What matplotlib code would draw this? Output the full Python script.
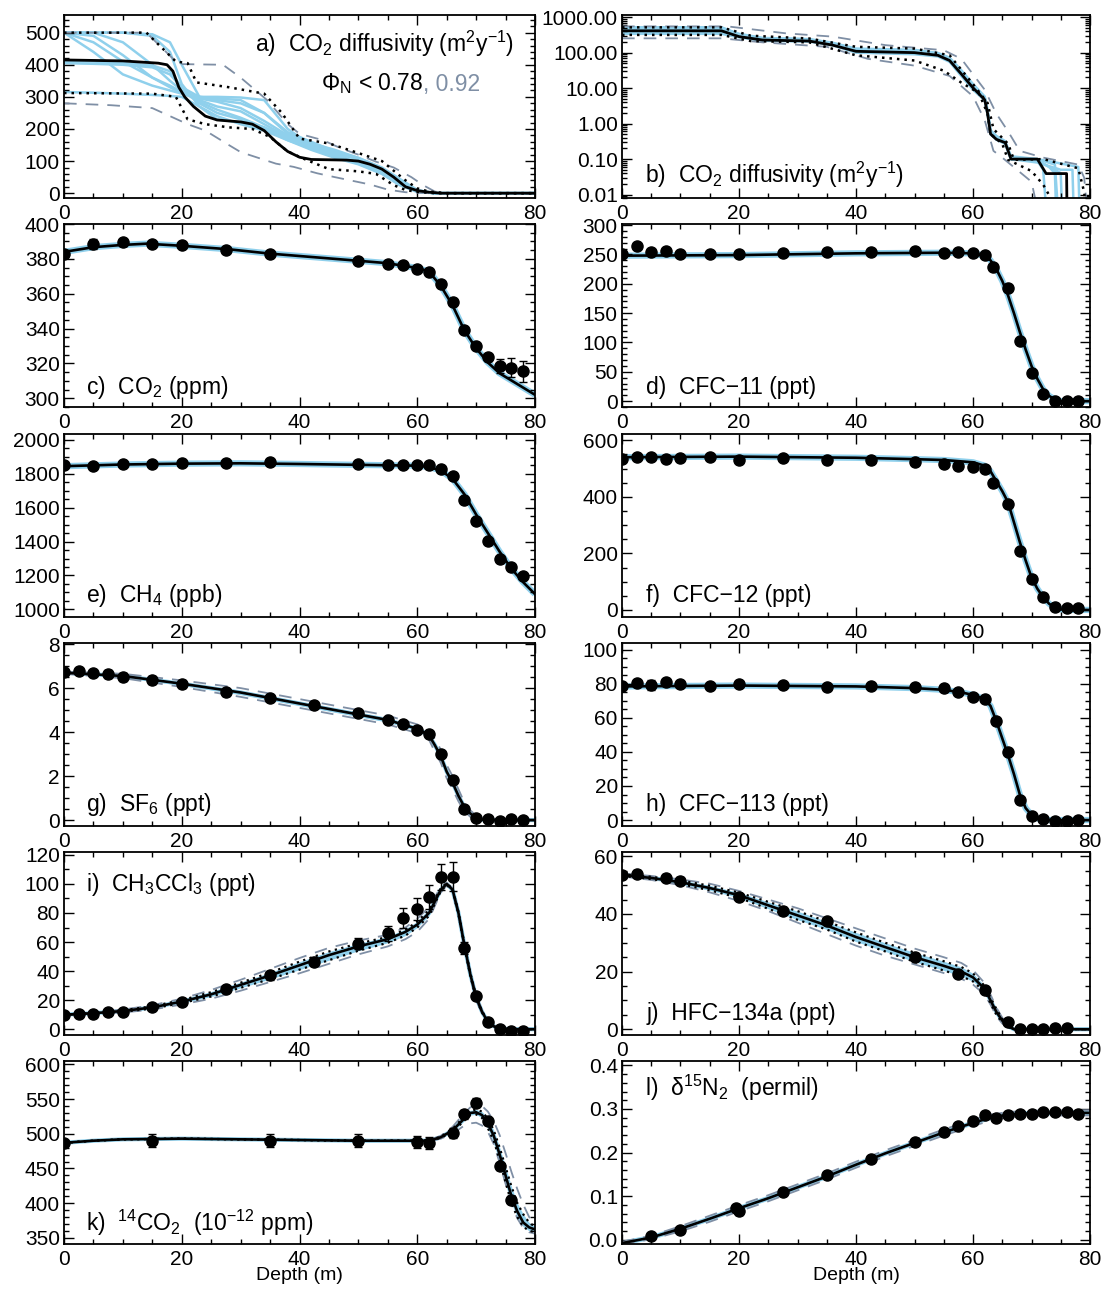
import numpy as np
import matplotlib
matplotlib.use("Agg")
import matplotlib.pyplot as plt
from matplotlib.ticker import MultipleLocator, FormatStrFormatter, LogLocator, NullFormatter

plt.rcParams['font.family'] = ['Liberation Sans', 'DejaVu Sans']
plt.rcParams['mathtext.fontset'] = 'custom'
plt.rcParams['mathtext.rm'] = 'Liberation Sans'
plt.rcParams['mathtext.it'] = 'Liberation Sans:italic'
plt.rcParams['mathtext.default'] = 'regular'

BLUE = '#8fd0ec'
GRAY = '#7f8fa5'
TICK_FS = 15
LABEL_FS = 16.5

# -----------------------------
# a) CO2 diffusivity (linear)
# -----------------------------
a_z = [0, 10, 16, 17.5, 18.5, 19.5, 20.5, 22, 24, 26, 30, 32, 34, 36, 38, 40, 42, 48, 50, 52, 54, 56, 58, 60, 62, 64, 80]
a_m = [415, 412, 405, 400, 380, 330, 300, 270, 240, 228, 222, 215, 195, 160, 130, 112, 105, 103, 100, 90, 75, 50, 20, 8, 3, 0, 0]
a_dot_hi_z = [0, 14, 19, 21, 22.5, 28, 34, 37, 40, 45, 50, 54, 56, 58, 60, 62, 65, 80]
a_dot_hi = [500, 500, 410, 405, 345, 330, 310, 250, 170, 155, 125, 100, 70, 40, 15, 5, 0, 0]
a_dot_lo_z = [0, 15, 19, 21, 24, 28, 32, 35, 38, 41, 45, 50, 53, 56, 58, 60, 63, 80]
a_dot_lo = [312, 310, 300, 230, 215, 205, 200, 175, 130, 105, 75, 68, 60, 25, 10, 4, 0, 0]
a_dash_hi_z = [0, 14, 19, 20, 27, 30, 34.5, 38, 40, 44, 47, 50, 53, 56, 59, 61, 63, 65, 80]
a_dash_hi = [500, 500, 410, 402, 400, 360, 290, 215, 185, 165, 140, 120, 98, 80, 50, 25, 5, 0, 0]
a_dash_lo_z = [0, 8, 15, 18, 21, 24, 28, 30, 36, 39, 43, 46, 52, 55, 58, 62, 80]
a_dash_lo = [280, 274, 265, 240, 215, 195, 150, 128, 92, 82, 62, 50, 27, 11, 3, 0, 0]

a_blue_z = [0, 5, 10, 15, 18, 20, 23, 26, 30, 34, 38, 42, 46, 50, 54, 57, 60, 63, 80]
a_blue = [
    [500, 500, 500, 495, 470, 400, 300, 295, 290, 250, 185, 150, 130, 110, 80, 45, 10, 0, 0],
    [500, 490, 430, 360, 330, 312, 300, 290, 280, 250, 190, 160, 130, 105, 75, 40, 8, 0, 0],
    [500, 440, 370, 335, 320, 310, 295, 285, 265, 225, 180, 145, 120, 95, 65, 30, 5, 0, 0],
    [500, 500, 470, 400, 350, 320, 290, 270, 255, 215, 175, 140, 115, 95, 70, 35, 6, 0, 0],
    [410, 410, 405, 398, 380, 330, 300, 300, 298, 290, 200, 150, 120, 95, 70, 35, 6, 0, 0],
    [405, 403, 400, 392, 370, 330, 280, 250, 230, 200, 165, 135, 110, 90, 60, 25, 4, 0, 0],
    [500, 470, 410, 360, 335, 315, 285, 260, 235, 205, 170, 145, 125, 105, 75, 40, 7, 0, 0],
    [315, 313, 310, 306, 303, 300, 270, 240, 215, 195, 165, 140, 115, 92, 62, 28, 4, 0, 0],
    [500, 500, 500, 490, 440, 340, 270, 230, 220, 205, 175, 155, 135, 110, 78, 42, 8, 0, 0],
]

# -----------------------------
# b) CO2 diffusivity (log)
# -----------------------------
b_z = [0, 17, 20, 24, 32, 36, 40, 50, 54, 56, 58, 60, 62, 62.5, 63, 64, 65.5, 66.5, 71, 72.5, 76, 76.1]
b_m = [412, 412, 283, 227, 212, 163, 109, 100, 84, 60, 25, 10.2, 4.7, 1.9, 0.51, 0.36, 0.29, 0.1, 0.1, 0.039, 0.039, 0.001]
b_dot_hi_z = [0, 17, 22, 32, 40, 50, 56, 60, 62.5, 63.5, 66, 67, 72, 78, 79, 79.3]
b_dot_hi = [516, 516, 300, 250, 146, 130, 84, 13, 3.8, 0.7, 0.27, 0.095, 0.1, 0.055, 0.0118, 0.004]
b_dot_lo_z = [0, 17, 22, 32, 40, 50, 55, 58, 61, 62.5, 63, 65, 66, 70, 72, 73, 73.5]
b_dot_lo = [316, 316, 212, 195, 84, 60, 31, 14.3, 7.3, 1.9, 0.51, 0.27, 0.095, 0.046, 0.019, 0.0097, 0.004]
b_dash_hi_z = [0, 18, 28, 36, 45, 55, 58, 62, 64, 66, 68, 72, 78, 79, 79.5]
b_dash_hi = [550, 550, 350, 283, 163, 117, 67, 9, 1.9, 0.6, 0.17, 0.11, 0.07, 0.03, 0.004]
b_dash_lo_z = [0, 17, 24, 35, 42, 50, 56, 60, 62, 63.5, 65, 70, 71]
b_dash_lo = [253, 253, 195, 146, 67, 43, 22, 5.9, 1.25, 0.17, 0.11, 0.023, 0.004]

b_blue_z = [
    [0, 17, 20, 24, 32, 36, 40, 50, 54, 56, 58, 60, 62, 62.5, 63, 64, 65.5, 66.5, 71, 73, 74, 74.2],
    [0, 17, 20, 24, 32, 36, 40, 50, 54, 56, 58, 60, 62, 62.5, 63, 64, 65.5, 66.5, 71, 72, 72.5],
    [0, 17, 20, 24, 32, 36, 40, 50, 54, 56, 58, 60, 62, 62.5, 63, 64, 65.5, 66.5, 71, 74, 75, 75.2],
    [0, 17, 20, 24, 32, 36, 40, 50, 54, 56, 58, 60, 62, 62.5, 63, 64, 65.5, 66.5, 71, 75, 77, 77.2],
    [0, 17, 20, 24, 32, 36, 40, 50, 54, 56, 58, 60, 62, 62.5, 63, 64, 65.5, 66.5, 71, 76, 78, 78.2],
    [0, 17, 20, 24, 32, 36, 40, 50, 54, 56, 58, 60, 62, 62.5, 63, 64, 65.5, 66.5, 71, 74, 74.5],
]
b_blue = [
    [500, 500, 340, 260, 240, 185, 125, 115, 95, 70, 30, 12, 5.5, 2.2, 0.6, 0.42, 0.3, 0.1, 0.095, 0.06, 0.04, 0.004],
    [460, 460, 310, 245, 228, 175, 118, 108, 90, 64, 27, 11, 5, 2, 0.55, 0.4, 0.29, 0.1, 0.09, 0.05, 0.004],
    [380, 380, 290, 235, 218, 168, 112, 102, 86, 60, 25, 10, 4.8, 1.9, 0.52, 0.37, 0.28, 0.1, 0.09, 0.05, 0.04, 0.004],
    [340, 340, 270, 215, 205, 160, 100, 90, 78, 55, 22, 9, 4.5, 1.8, 0.5, 0.35, 0.27, 0.1, 0.08, 0.05, 0.05, 0.004],
    [440, 440, 320, 250, 232, 180, 120, 110, 92, 66, 28, 11.5, 5.2, 2.1, 0.58, 0.41, 0.3, 0.11, 0.1, 0.07, 0.06, 0.004],
    [520, 520, 330, 255, 238, 190, 130, 120, 98, 72, 32, 13, 5.8, 2.4, 0.65, 0.45, 0.32, 0.12, 0.1, 0.07, 0.004],
]

# -----------------------------
# c) CO2
# -----------------------------
c_z = [0, 5, 10, 14, 20, 28, 35, 50, 55, 58, 60, 62, 63, 64, 66, 68, 70, 72, 74, 76, 78, 80]
c_m = [384, 386.7, 388, 388.7, 387.5, 385.5, 383, 378.9, 377.5, 375.8, 374.8, 372.7, 368.6, 364.5, 353.3, 339, 328.7, 320.5, 314.3, 310.2, 306.1, 302]
c_obs_z = [0, 5, 10, 15, 20, 27.5, 35, 50, 55, 57.5, 60, 62, 64, 66, 68, 70, 72, 74, 76, 78]
c_obs = [383, 388.5, 389.5, 388.5, 388, 385, 382.6, 378.9, 377.3, 376.2, 374.4, 372.7, 365.6, 355, 339, 330, 323.5, 318.5, 317.5, 315.5]
c_err = [1, 3, 2, 1, 1, 1, 1, 1, 1, 1, 1, 1, 1, 1, 1, 1, 2, 4, 5.5, 6]

# -----------------------------
# d) CFC-11
# -----------------------------
d_z = [0, 20, 40, 55, 60, 62, 63, 64, 65, 66, 67, 68, 69, 70, 71, 72, 73, 74, 75, 80]
d_m = [248, 249, 252, 253, 252, 248, 240, 225, 205, 180, 150, 118, 88, 60, 38, 20, 9, 3, 0, 0]
d_obs_z = [0, 2.5, 5, 7.5, 10, 15, 20, 27.5, 35, 42.5, 50, 55, 57.5, 60, 62, 63.5, 66, 68, 70, 72, 74, 76, 78]
d_obs = [250, 265, 254, 256, 250, 251, 251, 253, 254, 254, 256, 253, 254, 252, 249, 228, 193, 103, 48, 12, 1, 0.5, 1]
d_err = [2] * 23

# -----------------------------
# e) CH4
# -----------------------------
e_z = [0, 10, 20, 30, 40, 50, 60, 62, 64, 66, 68, 70, 72, 74, 76, 78, 80]
e_m = [1845, 1855, 1860, 1862, 1858, 1853, 1848, 1840, 1820, 1770, 1680, 1560, 1450, 1340, 1240, 1160, 1090]
e_obs_z = [0, 5, 10, 15, 20, 27.5, 35, 50, 55, 57.5, 60, 62, 64, 66, 68, 70, 72, 74, 76, 78]
e_obs = [1850, 1848, 1858, 1860, 1865, 1862, 1872, 1857, 1850, 1850, 1850, 1850, 1830, 1790, 1645, 1519, 1405, 1300, 1248, 1195]
e_err = [10] * 20

# -----------------------------
# f) CFC-12
# -----------------------------
f_z = [0, 20, 40, 50, 55, 60, 62, 63, 64, 65, 66, 67, 68, 69, 70, 71, 72, 73, 74, 75, 76, 80]
f_m = [540, 542, 538, 533, 530, 522, 510, 490, 455, 420, 380, 310, 240, 175, 115, 75, 45, 22, 8, 2, 0, 0]
f_obs_z = [0, 2.5, 5, 7.5, 10, 15, 20, 27.5, 35, 42.5, 50, 55, 57.5, 60, 62, 63.5, 66, 68, 70, 72, 74, 76, 78]
f_obs = [535, 540, 540, 535, 538, 540, 530, 537, 530, 530, 523, 515, 510, 505, 498, 450, 375, 210, 110, 45, 12, 8, 8]
f_err = [5] * 23

# -----------------------------
# g) SF6
# -----------------------------
g_z = [0, 10, 20, 30, 40, 50, 55, 60, 62, 63, 64, 65, 66, 67, 68, 69, 70, 71, 72, 80]
g_m = [6.7, 6.55, 6.2, 5.8, 5.3, 4.8, 4.55, 4.15, 3.85, 3.4, 2.9, 2.2, 1.7, 1.1, 0.6, 0.3, 0.1, 0.02, 0, 0]
g_hi = [6.75, 6.65, 6.35, 6.0, 5.5, 5.0, 4.75, 4.35, 4.05, 3.7, 3.2, 2.5, 2.0, 1.4, 0.8, 0.45, 0.2, 0.05, 0, 0]
g_lo = [6.65, 6.45, 6.05, 5.6, 5.1, 4.6, 4.35, 3.95, 3.65, 3.1, 2.6, 1.9, 1.4, 0.85, 0.4, 0.15, 0.03, 0, 0, 0]
g_bhi = [6.72, 6.6, 6.28, 5.9, 5.4, 4.9, 4.65, 4.25, 3.95, 3.55, 3.05, 2.35, 1.85, 1.25, 0.7, 0.38, 0.15, 0.03, 0, 0]
g_blo = [6.68, 6.5, 6.12, 5.7, 5.2, 4.7, 4.45, 4.05, 3.75, 3.25, 2.75, 2.05, 1.55, 0.95, 0.5, 0.22, 0.05, 0.01, 0, 0]
g_obs_z = [0, 2.5, 5, 7.5, 10, 15, 20, 27.5, 35, 42.5, 50, 55, 57.5, 60, 62, 64, 66, 68, 70, 72, 74, 76, 78]
g_obs = [6.72, 6.77, 6.7, 6.64, 6.5, 6.35, 6.2, 5.8, 5.55, 5.23, 4.85, 4.53, 4.37, 4.1, 3.9, 3.0, 1.8, 0.5, 0.1, 0.05, -0.05, 0.05, 0.0]
g_err = [0.05, 0.05, 0.1, 0.18, 0.2, 0.18, 0.18, 0.15, 0.15, 0.1, 0.1, 0.08, 0.08, 0.08, 0.05, 0.05, 0.05, 0.05, 0.02, 0.02, 0.02, 0.02, 0.02]

# -----------------------------
# h) CFC-113
# -----------------------------
h_z = [0, 20, 40, 50, 55, 58, 60, 62, 63, 64, 65, 66, 67, 68, 69, 70, 71, 72, 80]
h_m = [78.5, 79, 78.5, 77.5, 76.5, 75, 73.5, 71, 67, 58, 48, 38, 27, 15, 7, 3, 1, 0, 0]
h_obs_z = [0, 2.5, 5, 7.5, 10, 15, 20, 27.5, 35, 42.5, 50, 55, 57.5, 60, 62, 64, 66, 68, 70, 72, 74, 76, 78]
h_obs = [79, 80.5, 79.5, 81, 80, 79, 80, 79.5, 78, 78.5, 78, 77.5, 75, 72.5, 71, 58, 40, 12, 2.5, 0.5, -0.5, -0.5, 0]
h_err = [1, 1, 3, 1, 1, 1, 1, 1, 1, 1, 1, 1, 1, 1, 1, 1, 1, 1, 0.5, 0.5, 0.5, 0.5, 0.5]

# -----------------------------
# i) CH3CCl3
# -----------------------------
i_z = [0, 5, 10, 15, 20, 25, 30, 35, 40, 45, 50, 55, 58, 60, 62, 63, 64, 65, 66, 67, 68, 69, 70, 71, 72, 73, 74, 76, 80]
i_m = [10, 11, 12.5, 15, 19, 24, 30.5, 37, 44, 51, 57, 62, 67, 72, 80, 88, 96, 100, 96, 80, 58, 38, 22, 12, 5, 2, 0.5, 0, 0]
i_hi = [10, 11.5, 13.5, 16.5, 21, 27, 34, 41.5, 49, 56, 61, 65, 70, 76, 84, 91, 98, 101, 97, 82, 60, 40, 24, 13, 6, 2.5, 0.8, 0, 0]
i_lo = [10, 10.5, 11.5, 13.5, 17, 21, 26.5, 32.5, 38.5, 45, 51.5, 57, 62, 67, 76, 85, 94, 99, 95, 78, 56, 36, 20, 11, 4, 1.5, 0.3, 0, 0]
i_dhi = [10, 11.2, 13, 15.8, 20, 25.5, 32, 39, 46.5, 53.5, 59, 63.5, 68.5, 74, 82, 89.5, 97, 100.5, 96.5, 81, 59, 39, 23, 12.5, 5.5, 2.2, 0.6, 0, 0]
i_dlo = [10, 10.8, 12, 14.2, 18, 22.5, 28.5, 34.5, 41, 47.5, 54, 59.5, 64.5, 70, 78, 86.5, 95, 99.5, 95.5, 79, 57, 37, 21, 11.5, 4.5, 1.8, 0.4, 0, 0]
i_obs_z = [0, 2.5, 5, 7.5, 10, 15, 20, 27.5, 35, 42.5, 50, 55, 57.5, 60, 62, 64, 66, 68, 70, 72, 74, 76, 78]
i_obs = [10, 10.5, 10.5, 11.5, 12, 15, 19, 27.5, 37, 46.5, 59, 66, 76.5, 82.5, 91, 105, 105, 56, 23, 5, 0, -1, -1]
i_err = [1, 1, 1, 1, 1, 1, 1.5, 2, 3, 3, 4, 5, 7, 7.5, 8, 9, 10, 4, 2, 1, 0.5, 0.5, 0.5]

# -----------------------------
# j) HFC-134a
# -----------------------------
j_z = [0, 5, 10, 15, 20, 25, 30, 35, 40, 45, 50, 55, 58, 60, 62, 63, 64, 65, 66, 67, 80]
j_m = [53.5, 52.5, 51, 49, 46.5, 43, 39.5, 36, 32, 28.5, 25, 22, 20, 18, 14, 10, 6, 3, 1, 0, 0]
j_hi = [54, 53.2, 52, 50.5, 48, 45, 42, 38.5, 35, 31.5, 28, 25, 23, 20.5, 16, 12, 7.5, 4, 1.5, 0.2, 0]
j_lo = [53, 51.8, 50, 47.5, 44.5, 41, 37, 33, 29, 25.5, 22.5, 19.5, 17.5, 15.5, 12, 8.5, 4.5, 2, 0.5, 0, 0]
j_dhi = [53.8, 52.9, 51.6, 49.8, 47.4, 44.2, 41, 37.4, 33.6, 30, 26.6, 23.6, 21.6, 19.4, 15, 11, 7, 3.5, 1.2, 0.1, 0]
j_dlo = [53.2, 52.1, 50.4, 48.2, 45.6, 41.8, 38, 34.6, 30.4, 27, 23.4, 20.4, 18.4, 16.6, 13, 9, 5, 2.5, 0.8, 0, 0]
j_obs_z = [0, 2.5, 7.5, 10, 20, 27.5, 35, 50, 57.5, 62, 66, 68, 70, 72, 74, 76]
j_obs = [53.5, 54, 52.5, 51.5, 46, 41, 37.5, 25, 19, 13.5, 2.5, 0, 0, 0, 0.5, 0.5]
j_err = [1, 1.2, 1.2, 1.2, 1, 1, 1, 1, 1, 1, 0.5, 0.3, 0.3, 0.3, 0.3, 0.3]

# -----------------------------
# k) 14CO2
# -----------------------------
k_z = [0, 5, 10, 20, 30, 40, 50, 60, 62, 64, 66, 68, 69, 70, 71, 72, 73, 74, 75, 76, 77, 78, 79, 80]
k_m = [487, 490, 492, 493, 492, 491, 490, 490, 490, 495, 505, 522, 530, 531, 527, 515, 497, 470, 440, 410, 388, 372, 365, 362]
k_hi = [487, 490, 492, 493, 492, 491, 490, 490, 491, 497, 510, 530, 538, 542, 540, 532, 518, 498, 472, 445, 420, 398, 380, 370]
k_lo = [487, 490, 492, 493, 492, 491, 490, 490, 489, 493, 500, 512, 515, 516, 512, 503, 485, 458, 428, 398, 378, 364, 358, 356]
k_dhi = [487, 490, 492, 493, 492, 491, 490, 490, 490, 496, 507, 525, 533, 535, 532, 522, 505, 480, 452, 424, 400, 384, 372, 366]
k_dlo = [487, 490, 492, 493, 492, 491, 490, 490, 490, 494, 503, 519, 527, 528, 523, 508, 490, 462, 430, 400, 380, 366, 360, 358]
k_obs_z = [0, 15, 35, 50, 60, 62, 66, 68, 70, 72, 74, 76]
k_obs = [487, 490, 490, 490, 488, 487, 501, 528, 545, 518, 453, 405]
k_err = [3, 9, 9, 9, 9, 9, 7, 7, 6, 5, 5, 5]

# -----------------------------
# l) d15N2
# -----------------------------
l_z = [0, 5, 10, 15, 20, 25, 30, 35, 40, 45, 50, 55, 60, 63, 66, 70, 75, 80]
l_m = [-0.008, 0.005, 0.025, 0.048, 0.072, 0.095, 0.12, 0.145, 0.172, 0.198, 0.222, 0.246, 0.268, 0.28, 0.287, 0.29, 0.291, 0.291]
l_hi = [-0.005, 0.009, 0.031, 0.055, 0.079, 0.102, 0.127, 0.152, 0.179, 0.205, 0.229, 0.253, 0.275, 0.287, 0.293, 0.296, 0.297, 0.297]
l_lo = [-0.011, 0.001, 0.019, 0.041, 0.065, 0.088, 0.113, 0.138, 0.165, 0.191, 0.215, 0.239, 0.261, 0.273, 0.281, 0.284, 0.285, 0.285]
l_obs_z = [5, 10, 19.5, 20, 27.5, 35, 42.5, 50, 55, 57.5, 60, 62, 64, 66, 68, 70, 72, 74, 76, 78]
l_obs = [0.008, 0.022, 0.072, 0.065, 0.11, 0.148, 0.185, 0.225, 0.248, 0.26, 0.272, 0.287, 0.28, 0.285, 0.288, 0.288, 0.292, 0.292, 0.292, 0.289]
l_err = [0.006, 0.006, 0.008, 0.008, 0.004, 0.004, 0.004, 0.004, 0.004, 0.004, 0.004, 0.004, 0.003, 0.003, 0.003, 0.003, 0.003, 0.003, 0.003, 0.003]


# -----------------------------
# Layout
# -----------------------------
W, H = 1102, 1289
fig = plt.figure(figsize=(W / 100, H / 100), dpi=100)
col_x = [64, 622]
col_w = [471, 468]
row_top = [15, 224, 434, 643, 852, 1061]
ax_h = 183


def make_ax(row, col):
    x0 = col_x[col] / W
    y0 = 1 - (row_top[row] + ax_h) / H
    return fig.add_axes([x0, y0, col_w[col] / W, ax_h / H])


def style(ax, ylim, ymaj, ymin):
    ax.set_xlim(0, 80)
    ax.set_ylim(*ylim)
    ax.xaxis.set_major_locator(MultipleLocator(20))
    ax.xaxis.set_minor_locator(MultipleLocator(5))
    if ymaj is not None:
        ax.yaxis.set_major_locator(MultipleLocator(ymaj))
        ax.yaxis.set_minor_locator(MultipleLocator(ymin))
    ax.tick_params(which='both', direction='in', top=True, right=True, labelsize=TICK_FS, width=1)
    ax.tick_params(which='major', length=7)
    ax.tick_params(which='minor', length=3.5)
    ax.tick_params(axis='x', pad=4)
    ax.tick_params(axis='y', pad=3)
    for s in ax.spines.values():
        s.set_linewidth(1.3)


def model(ax, z, m, lw_blue=4.5):
    ax.plot(z, m, color=BLUE, lw=lw_blue, zorder=1, solid_capstyle='butt')
    ax.plot(z, m, color='k', lw=1.9, zorder=4)


def bounds(ax, z, hi, lo, dhi=None, dlo=None):
    ax.plot(z, hi, color=GRAY, lw=1.3, ls=(0, (7, 5)), zorder=2)
    ax.plot(z, lo, color=GRAY, lw=1.3, ls=(0, (7, 5)), zorder=2)
    if dhi is not None:
        ax.fill_between(z, dlo, dhi, color=BLUE, lw=0, zorder=1)
        ax.plot(z, dhi, color='k', lw=1.6, ls=(0, (1, 2)), zorder=3)
        ax.plot(z, dlo, color='k', lw=1.6, ls=(0, (1, 2)), zorder=3)


def obs(ax, z, v, e):
    ax.errorbar(z, v, yerr=e, fmt='o', color='k', ms=8, capsize=3,
                elinewidth=1, capthick=1, zorder=6)


def label(ax, x, y, s, ha='left'):
    return ax.text(x, y, s, transform=ax.transAxes, fontsize=LABEL_FS, ha=ha, va='baseline', zorder=10)


# a)
ax = make_ax(0, 0)
for curve in a_blue:
    ax.plot(a_blue_z, curve, color=BLUE, lw=1.8, zorder=1)
ax.plot(a_dash_hi_z, a_dash_hi, color=GRAY, lw=1.3, ls=(0, (7, 5)), zorder=2)
ax.plot(a_dash_lo_z, a_dash_lo, color=GRAY, lw=1.3, ls=(0, (7, 5)), zorder=2)
ax.plot(a_dot_hi_z, a_dot_hi, color='k', lw=1.8, ls=(0, (1, 2)), zorder=3)
ax.plot(a_dot_lo_z, a_dot_lo, color='k', lw=1.8, ls=(0, (1, 2)), zorder=3)
ax.plot(a_z, a_m, color='k', lw=2.0, zorder=4)
style(ax, (-15, 555), 100, 20)
label(ax, 0.955, 0.80, 'a)  CO$_2$ diffusivity (m$^2$y$^{-1}$)', ha='right')
t1 = label(ax, 0.762, 0.59, 'Φ$_N$ < 0.78', ha='right')
ax.annotate(', 0.92', xy=(1, 0), xycoords=t1, va='bottom', ha='left', fontsize=LABEL_FS, color=GRAY)

# b)
ax = make_ax(0, 1)
ax.set_yscale('log')
for zz, curve in zip(b_blue_z, b_blue):
    ax.plot(zz, curve, color=BLUE, lw=1.8, zorder=1)
ax.plot(b_dash_hi_z, b_dash_hi, color=GRAY, lw=1.3, ls=(0, (7, 5)), zorder=2)
ax.plot(b_dash_lo_z, b_dash_lo, color=GRAY, lw=1.3, ls=(0, (7, 5)), zorder=2)
ax.plot(b_dot_hi_z, b_dot_hi, color='k', lw=1.8, ls=(0, (1, 2)), zorder=3)
ax.plot(b_dot_lo_z, b_dot_lo, color='k', lw=1.8, ls=(0, (1, 2)), zorder=3)
ax.plot(b_z, b_m, color='k', lw=2.0, zorder=4)
style(ax, (0.008, 1150), None, None)
ax.yaxis.set_major_locator(LogLocator(base=10, numticks=10))
ax.yaxis.set_major_formatter(FormatStrFormatter('%.2f'))
ax.yaxis.set_minor_locator(LogLocator(base=10, subs=np.arange(2, 10), numticks=20))
ax.yaxis.set_minor_formatter(NullFormatter())
label(ax, 0.05, 0.08, 'b)  CO$_2$ diffusivity (m$^2$y$^{-1}$)')

# c)
ax = make_ax(1, 0)
model(ax, c_z, c_m)
obs(ax, c_obs_z, c_obs, c_err)
style(ax, (295, 400), 20, 5)
label(ax, 0.047, 0.07, 'c)  CO$_2$ (ppm)')

# d)
ax = make_ax(1, 1)
model(ax, d_z, d_m)
obs(ax, d_obs_z, d_obs, d_err)
style(ax, (-10, 302), 50, 10)
label(ax, 0.052, 0.07, 'd)  CFC−11 (ppt)')

# e)
ax = make_ax(2, 0)
model(ax, e_z, e_m)
obs(ax, e_obs_z, e_obs, e_err)
style(ax, (955, 2035), 200, 50)
label(ax, 0.047, 0.08, 'e)  CH$_4$ (ppb)')

# f)
ax = make_ax(2, 1)
model(ax, f_z, f_m)
obs(ax, f_obs_z, f_obs, f_err)
style(ax, (-25, 622), 200, 50)
label(ax, 0.052, 0.08, 'f)  CFC−12 (ppt)')

# g)
ax = make_ax(3, 0)
ax.fill_between(g_z, g_blo, g_bhi, color=BLUE, lw=0, zorder=1)
bounds(ax, g_z, g_hi, g_lo)
model(ax, g_z, g_m, lw_blue=3)
obs(ax, g_obs_z, g_obs, g_err)
style(ax, (-0.27, 8.05), 2, 0.5)
label(ax, 0.047, 0.08, 'g)  SF$_6$ (ppt)')

# h)
ax = make_ax(3, 1)
model(ax, h_z, h_m)
obs(ax, h_obs_z, h_obs, h_err)
style(ax, (-3.5, 104), 20, 5)
label(ax, 0.052, 0.08, 'h)  CFC−113 (ppt)')

# i)
ax = make_ax(4, 0)
bounds(ax, i_z, i_hi, i_lo, i_dhi, i_dlo)
model(ax, i_z, i_m, lw_blue=3)
obs(ax, i_obs_z, i_obs, i_err)
style(ax, (-4, 122), 20, 10)
label(ax, 0.047, 0.785, 'i)  CH$_3$CCl$_3$ (ppt)')

# j)
ax = make_ax(4, 1)
bounds(ax, j_z, j_hi, j_lo, j_dhi, j_dlo)
model(ax, j_z, j_m, lw_blue=3)
obs(ax, j_obs_z, j_obs, j_err)
style(ax, (-2, 61.5), 20, 5)
label(ax, 0.052, 0.08, 'j)  HFC−134a (ppt)')

# k)
ax = make_ax(5, 0)
bounds(ax, k_z, k_hi, k_lo, k_dhi, k_dlo)
model(ax, k_z, k_m, lw_blue=3)
obs(ax, k_obs_z, k_obs, k_err)
style(ax, (341, 605), 50, 10)
label(ax, 0.047, 0.07, 'k)  $^{14}$CO$_2$  (10$^{-12}$ ppm)')
ax.set_xlabel('Depth (m)', fontsize=14, labelpad=-1)

# l)
ax = make_ax(5, 1)
bounds(ax, l_z, l_hi, l_lo)
model(ax, l_z, l_m, lw_blue=3.5)
obs(ax, l_obs_z, l_obs, l_err)
style(ax, (-0.01, 0.41), 0.1, 0.02)
ax.yaxis.set_major_formatter(FormatStrFormatter('%.1f'))
label(ax, 0.05, 0.81, 'l)  δ$^{15}$N$_2$  (permil)')
ax.set_xlabel('Depth (m)', fontsize=14, labelpad=-1)

fig.savefig('out.png', dpi=100)
